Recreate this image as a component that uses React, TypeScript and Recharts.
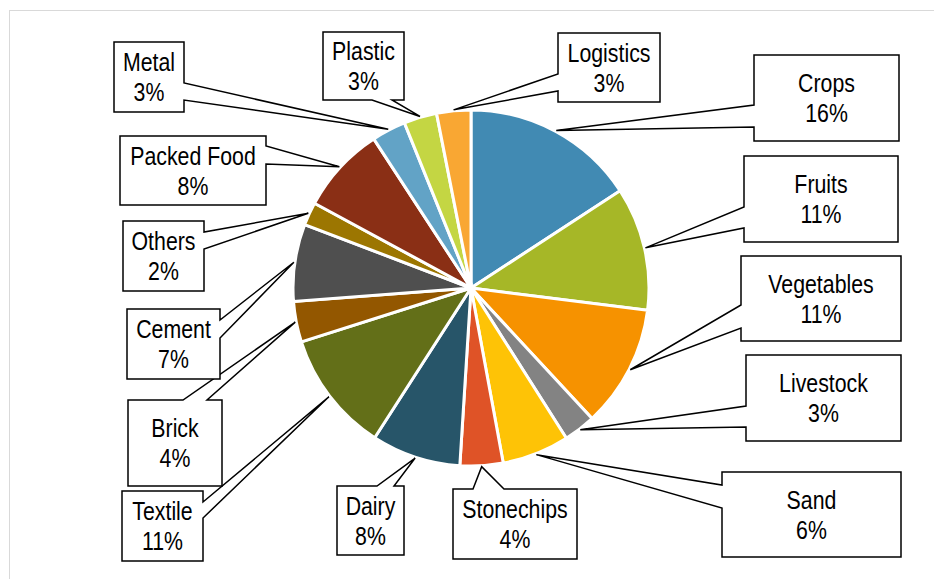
import React from "react"
import { PieChart, Pie, Cell } from "recharts"

const categories = [
  "Crops", "Fruits", "Vegetables", "Livestock", "Sand", "Stonechips", "Dairy",
  "Textile", "Brick", "Cement", "Others", "Packed Food", "Metal", "Plastic", "Logistics",
]
const shares = [15.8, 11.2, 11.1, 2.9, 6.1, 3.9, 8.1, 11.0, 3.7, 7.0, 2.1, 7.9, 3.1, 3.0, 3.1]
const colors = [
  "#418AB3", "#A6B727", "#F69200", "#838383", "#FEC306", "#DF5327", "#275569",
  "#636F18", "#935700", "#4F4F4F", "#9C7601", "#8A2F15", "#62A3C6", "#C4D643", "#F9A733",
]

const data = categories.map((name, i) => ({ name, value: shares[i] }))

// callout boxes: x, y, w, h, side the pointer leaves from, pointer base (a..b along that side)
type Box = { x: number; y: number; w: number; h: number; side: "left" | "right" | "top" | "bottom"; a: number; b: number }
const boxes: Box[] = [
  { x: 754, y: 55, w: 145, h: 86, side: "left", a: 105, b: 127 },
  { x: 744, y: 156, w: 154, h: 86, side: "left", a: 207, b: 228 },
  { x: 741, y: 256, w: 160, h: 85, side: "left", a: 305, b: 328 },
  { x: 746, y: 355, w: 155, h: 86, side: "left", a: 406, b: 427 },
  { x: 722, y: 472, w: 179, h: 85, side: "left", a: 485, b: 508 },
  { x: 453, y: 489, w: 124, h: 70, side: "top", a: 473, b: 504 },
  { x: 337, y: 486, w: 67, h: 69, side: "top", a: 377, b: 394 },
  { x: 122, y: 491, w: 81, h: 70, side: "right", a: 502, b: 518 },
  { x: 128, y: 400, w: 94, h: 86, side: "top", a: 183, b: 207 },
  { x: 127, y: 309, w: 93, h: 70, side: "right", a: 320, b: 338 },
  { x: 123, y: 221, w: 81, h: 70, side: "right", a: 232, b: 249 },
  { x: 120, y: 136, w: 146, h: 69, side: "right", a: 146, b: 164 },
  { x: 114, y: 42, w: 70, h: 70, side: "right", a: 83, b: 100 },
  { x: 323, y: 32, w: 81, h: 68, side: "bottom", a: 372, b: 392 },
  { x: 558, y: 33, w: 102, h: 69, side: "left", a: 74, b: 91 },
]

const RAD = Math.PI / 180

function calloutPath(bx: Box, tx: number, ty: number) {
  const { x, y, w, h, a, b } = bx
  const r = x + w
  const btm = y + h
  let pts: number[][]
  if (bx.side === "left") {
    pts = [[x, y], [r, y], [r, btm], [x, btm], [x, b], [tx, ty], [x, a]]
  } else if (bx.side === "right") {
    pts = [[x, y], [r, y], [r, a], [tx, ty], [r, b], [r, btm], [x, btm]]
  } else if (bx.side === "top") {
    pts = [[x, y], [a, y], [tx, ty], [b, y], [r, y], [r, btm], [x, btm]]
  } else {
    pts = [[x, y], [r, y], [r, btm], [b, btm], [tx, ty], [a, btm], [x, btm]]
  }
  return "M" + pts.map((p) => p[0] + "," + p[1]).join("L") + "Z"
}

function Callout(props: any) {
  const { cx, cy, midAngle, outerRadius, index, name, percent } = props
  const bx = boxes[index]
  if (!bx) return null
  const tx = cx + (outerRadius + 1) * Math.cos(-midAngle * RAD)
  const ty = cy + (outerRadius + 1) * Math.sin(-midAngle * RAD)
  const mx = bx.x + bx.w / 2
  const my = bx.y + bx.h / 2
  const textStyle = { fontFamily: "'Liberation Sans', Arial, sans-serif", fontSize: 26, fill: "#000" }
  return (
    <g>
      <path d={calloutPath(bx, tx, ty)} fill="#fff" stroke="#000" strokeWidth={1.5} strokeLinejoin="miter" />
      <text transform={`translate(${mx},${my - 6}) scale(0.82,1)`} textAnchor="middle" style={textStyle}>
        {name}
      </text>
      <text transform={`translate(${mx},${my + 24}) scale(0.82,1)`} textAnchor="middle" style={textStyle}>
        {Math.round(percent * 100) + "%"}
      </text>
    </g>
  )
}

export default function App() {
  return (
    <div style={{ position: "absolute", left: 0, top: 0, width: 934, height: 579, overflow: "hidden", background: "#fff" }}>
      <div
        style={{
          position: "absolute", left: 9, top: 10, width: 1000, height: 1000,
          borderLeft: "1px solid #d9d9d9", borderTop: "1px solid #d9d9d9",
        }}
      />
      <div style={{ position: "absolute", left: 0, top: 0 }}>
        <PieChart width={934} height={579}>
          <Pie
            data={data}
            dataKey="value"
            nameKey="name"
            cx={466}
            cy={283}
            outerRadius={178}
            startAngle={90}
            endAngle={-270}
            stroke="#fff"
            strokeWidth={3}
            label={Callout}
            labelLine={false}
            isAnimationActive={false}
          >
            {data.map((d, i) => (
              <Cell key={d.name} fill={colors[i]} />
            ))}
          </Pie>
        </PieChart>
      </div>
    </div>
  )
}
